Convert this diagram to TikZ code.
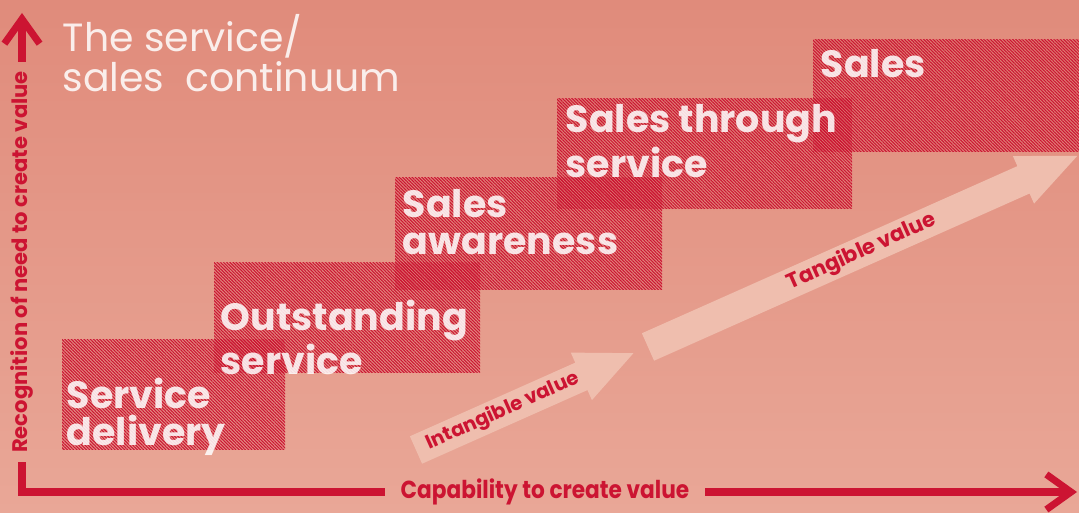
\documentclass[tikz,border=0pt]{standalone}
\usepackage{fontspec}
\setmainfont{Poppins}
\usetikzlibrary{arrows.meta, patterns.meta}

\definecolor{salmontop}{HTML}{E08B7B}
\definecolor{salmonbot}{HTML}{E9A797}
\definecolor{signal}{HTML}{CC1432}
\definecolor{blush}{HTML}{EFBEAE}

\tikzset{
  stepbox/.style={fill=signal, fill opacity=0.12,
    postaction={fill opacity=1, pattern={Lines[angle=-45,distance=0.64pt,line width=0.3pt]}, pattern color=signal}},
  steptext/.style={anchor=north west, inner sep=0pt, align=left, text=white, text opacity=0.85,
    font=\bfseries\fontsize{10.8}{10.5}\selectfont},
  valuearrow/.style={fill=blush},
  valuelabel/.style={text=signal, font=\bfseries\fontsize{#1}{#1}\selectfont, inner sep=0pt},
  axislabel/.style={text=signal, font=\bfseries\fontsize{6}{6}\selectfont},
  axisline/.style={draw=signal, line width=2pt, line join=miter}
}

\begin{document}
\begin{tikzpicture}[x=0.01cm, y=-0.01cm]
    \useasboundingbox (0,0) rectangle (1079,513);
    \shade[top color=salmontop, bottom color=salmonbot] (0,0) rectangle (1079,513);

    % the five steps
    \path[stepbox] (62,340) rectangle (285,450);
    \path[stepbox] (214,263) rectangle (480,373);
    \path[stepbox] (395,178) rectangle (662,290);
    \path[stepbox] (557,99) rectangle (852,209);
    \path[stepbox] (813,40) rectangle (1079,152);

    \node[steptext] (delivery) at (66,377) {Service\\delivery};
    \node[steptext] (outstanding) at (220,299) {Outstanding\\service};
    \node[steptext] (awareness) at (402,189) {Sales\\awareness};
    \node[steptext] (through) at (565,104) {Sales through\\service};
    \node[steptext] (sales) at (820,49) {Sales};

    \node[steptext, font=\fontsize{11.2}{9.7}\selectfont] (title) at (62,14) {The service/\\sales~ continuum};

    % intangible and tangible value
    \begin{scope}[shift={(416,450)}, rotate=24]
        \fill[valuearrow] (0,-15) -- (181,-15) -- (181,-26) -- (238,0) -- (181,26) -- (181,15) -- (0,15) -- cycle;
        \node[valuelabel=5.6, rotate=24] (intangible) at (95,0) {Intangible value};
    \end{scope}
    \begin{scope}[shift={(648,347)}, rotate=24]
        \fill[valuearrow] (0,-15) -- (411,-15) -- (411,-26) -- (470,0) -- (411,26) -- (411,15) -- (0,15) -- cycle;
        \node[valuelabel=6, rotate=24] (tangible) at (234,0) {Tangible value};
    \end{scope}

    % axes
    \coordinate (origin) at (22,492);
    \coordinate (xtip) at (1077,492);
    \coordinate (ytip) at (22,13);
    \node[axislabel, rotate=90, inner sep=2.5pt] (ylab) at (22,262) {Recognition of need to create value};
    \node[axislabel, font=\bfseries\fontsize{7}{7}\selectfont, xscale=0.88, inner xsep=5pt] (xlab) at (545,492) {Capability to create value};
    \draw[axisline] (ylab.west) -- (origin) -- (xlab.west);
    \draw[axisline, -{Straight Barb[length=7pt, width=10pt]}] (ylab.east) -- (ytip);
    \draw[axisline, -{Straight Barb[length=7pt, width=10pt]}] (xlab.east) -- (xtip);
\end{tikzpicture}
\end{document}
